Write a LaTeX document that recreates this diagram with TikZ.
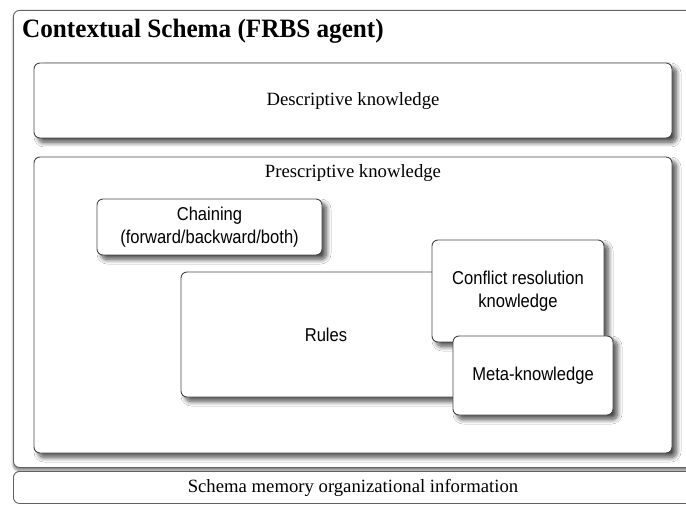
\documentclass[tikz,border=0pt]{standalone}
\usepackage{fontspec}
\setmainfont{Liberation Serif}
\newfontfamily\arialfont[FakeStretch=0.89]{Liberation Sans}
\newfontfamily\titlefont[FakeStretch=0.95]{Liberation Serif}
\usetikzlibrary{shadows.blur}
\begin{document}
\begin{tikzpicture}[x=1pt,y=-1pt,
  panel/.style={draw=black!72, line width=0.9pt, rounded corners=6pt, fill=white,
    inner sep=0pt, align=center,
    blur shadow={shadow xshift=4.5pt, shadow yshift=-4.5pt, shadow blur steps=12,
      shadow blur radius=4.5pt, shadow opacity=70}},
  flatpanel/.style={draw=black!62, line width=0.9pt, rounded corners=6pt, fill=white,
    inner sep=0pt},
  serifbig/.style={font=\fontsize{18.7}{22}\selectfont},
  sanslbl/.style={font=\arialfont\fontsize{18.6}{22.7}\selectfont},
]
\useasboundingbox (0,0) rectangle (686,505);
\clip (0,0) rectangle (686,505);

% outer schema frame and footer strip
\node[flatpanel, minimum width=700, minimum height=457, anchor=north west,
  blur shadow={shadow xshift=0pt, shadow yshift=-3pt, shadow blur steps=6,
    shadow blur radius=2.5pt, shadow opacity=50}] (schema) at (13,10) {};
\node[flatpanel, minimum width=700, minimum height=32, anchor=north west] (footer) at (13,471) {};
\node[font=\titlefont\fontsize{26.5}{30}\selectfont\bfseries, anchor=base west, inner sep=0pt] (title) at (22,38) {Contextual Schema (FRBS agent)};
\node[serifbig] (footertext) at (353,488) {Schema memory organizational information};

% descriptive knowledge
\node[panel, minimum width=638, minimum height=75] (desc) at (353,100.5) {};
\node[serifbig] (desctext) at (353,101.5) {Descriptive knowledge};

% prescriptive knowledge container
\node[panel, minimum width=638, minimum height=296] (presc) at (353,305) {};
\node[serifbig] (presctext) at (353,173) {Prescriptive knowledge};

% inner knowledge boxes
\node[panel, sanslbl, minimum width=225, minimum height=56] (chain) at (209.5,227) {Chaining\\(forward/backward/both)};
\node[panel, sanslbl, minimum width=290, minimum height=125] (rules) at (326,334.5) {Rules};
\node[panel, sanslbl, minimum width=172, minimum height=102] (conflict) at (518,291) {Conflict resolution\\knowledge};
\node[panel, sanslbl, minimum width=160, minimum height=79] (meta) at (533,375.5) {Meta-knowledge};
\end{tikzpicture}
\end{document}
